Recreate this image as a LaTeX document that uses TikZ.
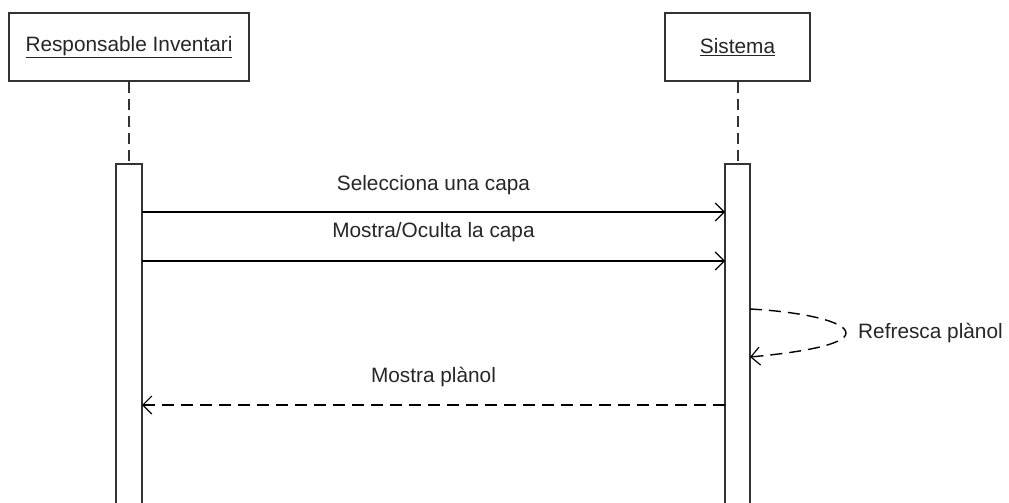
\documentclass[tikz,border=0pt]{standalone}
\usepackage{fontspec}
\setmainfont{Liberation Sans}
\usetikzlibrary{arrows.meta}
\definecolor{linegray}{HTML}{333333}
\begin{document}
\begin{tikzpicture}[x=1pt,y=-1pt,
  txt/.style={font=\fontsize{20.8pt}{24pt}\selectfont,text=black!85},
  actor/.style={txt,draw=linegray,line width=1.8pt,fill=white,minimum height=68pt,inner sep=0pt},
  lifeline/.style={draw=linegray,line width=1.8pt,dash pattern=on 11pt off 6pt},
  activation/.style={draw=linegray,line width=1.8pt,fill=white},
  msg/.style={draw=black,line width=1.4pt,-{Straight Barb[length=9pt,width=18pt,line width=1.2pt]}},
  reply/.style={msg,dash pattern=on 12pt off 7pt},
  lbl/.style={txt,inner sep=0pt}
]
\useasboundingbox (0,0) rectangle (1009,503);

% participants
\node[actor,minimum width=240pt] (resp) at (129,47) {\underline{Responsable Inventari}};
\node[actor,minimum width=145pt] (sis) at (737.5,47) {\underline{Sistema}};

% lifelines
\coordinate (respTop) at (129,164);
\coordinate (sisTop) at (738,164);
\draw[lifeline] (resp.south) -- (respTop);
\draw[lifeline] (sis.south -| sisTop) -- (sisTop);

% activation bars
\path[activation] (116,164) rectangle (142,510);
\path[activation] (725,164) rectangle (750,510);

% message ends
\coordinate (m1s) at (142,212);  \coordinate (m1e) at (725,212);
\coordinate (m2s) at (142,261);  \coordinate (m2e) at (725,261);
\coordinate (m3s) at (750,309);  \coordinate (m3e) at (750,357);
\coordinate (m4s) at (725,405);  \coordinate (m4e) at (142,405);

% messages
\draw[msg] (m1s) -- node[lbl,yshift=27pt] (l1) {Selecciona una capa} (m1e);
\draw[msg] (m2s) -- node[lbl,yshift=29pt] (l2) {Mostra/Oculta la capa} (m2e);
\draw[reply] (m3s) .. controls (805,312) and (846,322) .. (846,333)
  .. controls (846,344) and (805,352) .. (m3e);
\node[lbl,anchor=west] (l3) at (858,333) {Refresca plànol};
\draw[reply] (m4s) -- node[lbl,yshift=28pt] (l4) {Mostra plànol} (m4e);
\end{tikzpicture}
\end{document}
